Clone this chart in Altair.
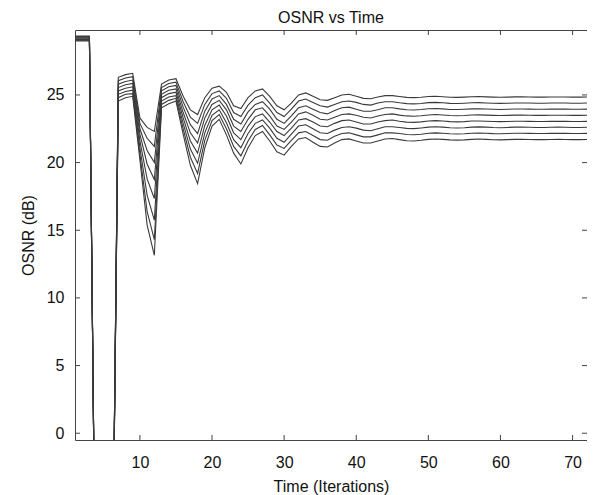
import altair as alt
import pandas as pd

iterations = list(range(1, 73))

s0 = [29.36, 29.36, 29.36, -21, -21, -21,
      26.3, 26.5, 26.6, 23.3, 22.6, 22.3,
      25.8, 26.1, 26.2, 24.9, 23.9, 23.55,
      24.8, 25.5, 25.65, 25.2, 24.2, 24.0,
      24.8, 25.3, 25.45, 24.9, 24.2, 23.9,
      24.4, 25.0, 25.15, 24.9, 24.65, 24.6,
      24.8, 25.0, 25.05, 24.9, 24.75, 24.72,
      24.85, 24.95, 24.95, 24.88, 24.82, 24.8,
      24.83, 24.88, 24.9, 24.87, 24.83, 24.82,
      24.84, 24.87, 24.88, 24.86, 24.84, 24.83,
      24.84, 24.86, 24.86, 24.85, 24.84, 24.84,
      24.85, 24.85, 24.85, 24.84, 24.84, 24.85]
s1 = [29.31, 29.31, 29.31, -21, -21, -21,
      26.05, 26.25, 26.35, 22.9, 21.8, 21.2,
      25.55, 25.85, 25.95, 24.5, 23.35, 22.9,
      24.3, 25.1, 25.3, 24.75, 23.7, 23.4,
      24.25, 24.8, 25.0, 24.4, 23.7, 23.4,
      23.95, 24.55, 24.7, 24.45, 24.2, 24.1,
      24.3, 24.5, 24.55, 24.45, 24.3, 24.25,
      24.4, 24.5, 24.5, 24.42, 24.36, 24.34,
      24.37, 24.43, 24.45, 24.42, 24.38, 24.37,
      24.39, 24.42, 24.43, 24.41, 24.39, 24.38,
      24.39, 24.41, 24.41, 24.4, 24.39, 24.39,
      24.4, 24.4, 24.4, 24.39, 24.39, 24.4]
s2 = [29.26, 29.26, 29.26, -21, -21, -21,
      25.8, 26.0, 26.1, 22.5, 20.9, 20.0,
      25.3, 25.6, 25.7, 24.1, 22.8, 22.15,
      23.8, 24.7, 24.95, 24.3, 23.2, 22.85,
      23.75, 24.3, 24.5, 23.95, 23.2, 22.9,
      23.45, 24.05, 24.2, 23.95, 23.7, 23.6,
      23.85, 24.05, 24.1, 23.95, 23.8, 23.8,
      23.9, 24.05, 24.05, 23.97, 23.91, 23.89,
      23.92, 23.98, 24.0, 23.97, 23.93, 23.92,
      23.94, 23.97, 23.98, 23.96, 23.94, 23.93,
      23.94, 23.96, 23.96, 23.95, 23.94, 23.94,
      23.95, 23.95, 23.95, 23.94, 23.94, 23.95]
s3 = [29.21, 29.21, 29.21, -21, -21, -21,
      25.55, 25.75, 25.85, 22.1, 19.9, 18.75,
      25.05, 25.35, 25.45, 23.7, 22.2, 21.45,
      23.3, 24.3, 24.6, 23.9, 22.7, 22.3,
      23.2, 23.9, 24.05, 23.45, 22.7, 22.45,
      23.0, 23.6, 23.75, 23.5, 23.2, 23.15,
      23.35, 23.55, 23.6, 23.5, 23.35, 23.3,
      23.45, 23.55, 23.6, 23.51, 23.45, 23.43,
      23.46, 23.52, 23.55, 23.52, 23.48, 23.46,
      23.48, 23.52, 23.53, 23.51, 23.49, 23.48,
      23.49, 23.51, 23.51, 23.5, 23.49, 23.49,
      23.5, 23.5, 23.5, 23.49, 23.49, 23.5]
s4 = [29.15, 29.15, 29.15, -21, -21, -21,
      25.3, 25.5, 25.6, 21.6, 18.8, 17.35,
      24.8, 25.1, 25.2, 23.3, 21.6, 20.7,
      22.75, 23.9, 24.25, 23.45, 22.2, 21.7,
      22.7, 23.4, 23.6, 23.0, 22.3, 22.0,
      22.55, 23.15, 23.25, 23.0, 22.7, 22.65,
      22.9, 23.1, 23.15, 23.0, 22.85, 22.85,
      23.0, 23.1, 23.15, 23.06, 22.99, 22.97,
      23.01, 23.07, 23.1, 23.07, 23.03, 23.01,
      23.03, 23.07, 23.08, 23.06, 23.04, 23.03,
      23.04, 23.06, 23.06, 23.05, 23.04, 23.04,
      23.05, 23.06, 23.05, 23.04, 23.04, 23.05]
s5 = [29.1, 29.1, 29.1, -21, -21, -21,
      25.05, 25.25, 25.35, 21.1, 17.6, 15.75,
      24.55, 24.85, 24.95, 22.9, 21.0, 19.95,
      22.2, 23.5, 23.9, 22.95, 21.7, 21.1,
      22.15, 22.9, 23.15, 22.55, 21.8, 21.5,
      22.1, 22.7, 22.8, 22.5, 22.2, 22.15,
      22.4, 22.6, 22.65, 22.55, 22.4, 22.35,
      22.5, 22.65, 22.65, 22.6, 22.53, 22.51,
      22.56, 22.62, 22.65, 22.62, 22.58, 22.56,
      22.58, 22.62, 22.64, 22.62, 22.59, 22.58,
      22.6, 22.62, 22.62, 22.61, 22.6, 22.6,
      22.61, 22.62, 22.61, 22.6, 22.6, 22.61]
s6 = [29.05, 29.05, 29.05, -21, -21, -21,
      24.8, 25.05, 25.1, 20.6, 16.4, 14.3,
      24.3, 24.6, 24.75, 22.5, 20.4, 19.2,
      21.65, 23.1, 23.55, 22.5, 21.2, 20.5,
      21.6, 22.45, 22.75, 22.05, 21.3, 21.05,
      21.65, 22.2, 22.3, 22.0, 21.7, 21.65,
      21.95, 22.15, 22.2, 22.05, 21.9, 21.9,
      22.05, 22.2, 22.2, 22.15, 22.08, 22.06,
      22.1, 22.17, 22.2, 22.17, 22.13, 22.11,
      22.13, 22.17, 22.19, 22.17, 22.14, 22.13,
      22.15, 22.17, 22.17, 22.16, 22.15, 22.15,
      22.16, 22.17, 22.16, 22.15, 22.15, 22.16]
s7 = [29.0, 29.0, 29.0, -21, -21, -21,
      24.55, 24.8, 24.9, 20.2, 15.4, 13.15,
      24.05, 24.35, 24.55, 22.1, 19.8, 18.45,
      21.1, 22.7, 23.2, 22.05, 20.7, 19.9,
      21.1, 22.0, 22.3, 21.6, 20.8, 20.55,
      21.2, 21.75, 21.85, 21.5, 21.2, 21.15,
      21.45, 21.7, 21.75, 21.6, 21.45, 21.45,
      21.6, 21.75, 21.78, 21.7, 21.62, 21.6,
      21.65, 21.72, 21.75, 21.72, 21.68, 21.66,
      21.68, 21.72, 21.74, 21.72, 21.69, 21.68,
      21.7, 21.72, 21.72, 21.71, 21.7, 21.7,
      21.71, 21.72, 21.71, 21.7, 21.7, 21.71]

series = [s0, s1, s2, s3, s4, s5, s6, s7]
x_ticks = [10, 20, 30, 40, 50, 60, 70]
y_ticks = [0, 5, 10, 15, 20, 25]
x_domain = [1, 72]
y_domain = [-0.5, 29.8]

rows = []
for k, s in enumerate(series):
    for xi, v in zip(iterations, s):
        rows.append({"t": xi, "osnr": v, "ch": k})
df = pd.DataFrame(rows)

W, H = 512, 410
FONT = "Liberation Sans"
TICK = 5
xs = alt.Scale(domain=x_domain, nice=False, zero=False)
ys = alt.Scale(domain=y_domain, nice=False, zero=False)
xaxis = alt.Axis(values=x_ticks, ticks=False, domain=False, grid=False,
                 labelPadding=14, titlePadding=8)
yaxis = alt.Axis(values=y_ticks, ticks=False, domain=False, grid=False,
                 labelPadding=11, titlePadding=10)
XT = "Time (Iterations)"
YT = "OSNR (dB)"

lines = alt.Chart(df).mark_line(color="#3a3a3a", strokeWidth=1.1, clip=True).encode(
    x=alt.X("t:Q", scale=xs, title=XT, axis=xaxis),
    y=alt.Y("osnr:Q", scale=ys, title=YT, axis=yaxis),
    detail="ch:N",
)

xt = pd.DataFrame({"t": x_ticks})
yt = pd.DataFrame({"osnr": y_ticks})
tick_color = "#444444"
bottom = alt.Chart(xt).mark_rule(color=tick_color, strokeWidth=1).encode(
    x=alt.X("t:Q", scale=xs, title=XT, axis=xaxis), y=alt.value(H), y2=alt.value(H - TICK))
top = alt.Chart(xt).mark_rule(color=tick_color, strokeWidth=1).encode(
    x=alt.X("t:Q", scale=xs, title=XT, axis=xaxis), y=alt.value(0), y2=alt.value(TICK))
left = alt.Chart(yt).mark_rule(color=tick_color, strokeWidth=1).encode(
    y=alt.Y("osnr:Q", scale=ys, title=YT, axis=yaxis), x=alt.value(0), x2=alt.value(TICK))
right = alt.Chart(yt).mark_rule(color=tick_color, strokeWidth=1).encode(
    y=alt.Y("osnr:Q", scale=ys, title=YT, axis=yaxis), x=alt.value(W), x2=alt.value(W - TICK))

chart = alt.layer(lines, bottom, top, left, right).properties(
    width=W, height=H,
    title=alt.TitleParams("OSNR vs Time", fontSize=16, fontWeight="normal",
                          font=FONT, color="#111111", offset=4),
    autosize="none",
    padding={"left": 67, "top": 22, "right": 0, "bottom": 55},
).configure_view(stroke="#444444", strokeWidth=1).configure_axis(
    labelFont=FONT, titleFont=FONT, labelFontSize=16, titleFontSize=16,
    titleFontWeight="normal", labelColor="#111111", titleColor="#111111",
)

chart.save("out.html", embed_options={"renderer": "svg", "actions": False})
